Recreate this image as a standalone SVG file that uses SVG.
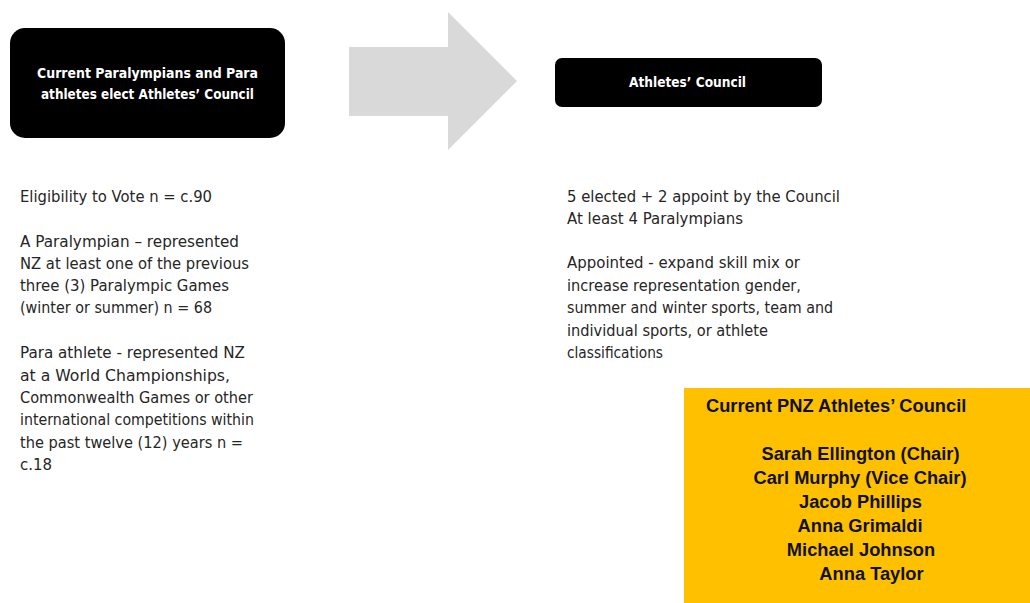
<svg xmlns="http://www.w3.org/2000/svg" width="1030" height="603" viewBox="0 0 1030 603">
<style>
.box{fill:#000}
.bt{font-family:"DejaVu Sans",sans-serif;font-weight:bold;font-size:14px;fill:#fff;text-anchor:middle}
.body{font-family:"DejaVu Sans",sans-serif;font-size:15px;fill:#262626}
.y{font-family:"Liberation Sans",Arial,sans-serif;font-weight:bold;font-size:18.3px;fill:#111}
.yc{text-anchor:middle}
</style>
<rect width="1030" height="603" fill="#fff"/>
<g id="node-electors">
<rect class="box" x="10" y="28" width="275" height="110" rx="15"/>
<text class="bt" x="147.5" y="78" textLength="221" lengthAdjust="spacingAndGlyphs">Current Paralympians and Para</text>
<text class="bt" x="147.5" y="99" textLength="213" lengthAdjust="spacingAndGlyphs">athletes elect Athletes’ Council</text>
</g>
<g id="connectors">
<polygon points="349,47 448,47 448,12 517,81 448,150 448,116 349,116" fill="#d9d9d9"/>
</g>
<g id="node-council">
<rect class="box" x="555" y="58" width="267" height="49" rx="7"/>
<text class="bt" x="687.5" y="87" textLength="117" lengthAdjust="spacingAndGlyphs">Athletes’ Council</text>
</g>
<g id="left-text" class="body">
<text x="20" y="202" textLength="192" lengthAdjust="spacingAndGlyphs">Eligibility to Vote n = c.90</text>
<text x="20" y="247" textLength="219" lengthAdjust="spacingAndGlyphs">A Paralympian – represented</text>
<text x="20" y="269" textLength="229" lengthAdjust="spacingAndGlyphs">NZ at least one of the previous</text>
<text x="20" y="291" textLength="209" lengthAdjust="spacingAndGlyphs">three (3) Paralympic Games</text>
<text x="20" y="313" textLength="192" lengthAdjust="spacingAndGlyphs">(winter or summer) n = 68</text>
<text x="20" y="358" textLength="225" lengthAdjust="spacingAndGlyphs">Para athlete - represented NZ</text>
<text x="20" y="381" textLength="210" lengthAdjust="spacingAndGlyphs">at a World Championships,</text>
<text x="20" y="403" textLength="233" lengthAdjust="spacingAndGlyphs">Commonwealth Games or other</text>
<text x="20" y="425" textLength="234" lengthAdjust="spacingAndGlyphs">international competitions within</text>
<text x="20" y="448" textLength="223" lengthAdjust="spacingAndGlyphs">the past twelve (12) years n =</text>
<text x="20" y="470" textLength="32" lengthAdjust="spacingAndGlyphs">c.18</text>
</g>
<g id="right-text" class="body">
<text x="567" y="202" textLength="273" lengthAdjust="spacingAndGlyphs">5 elected + 2 appoint by the Council</text>
<text x="567" y="224" textLength="176" lengthAdjust="spacingAndGlyphs">At least 4 Paralympians</text>
<text x="567" y="268" textLength="233" lengthAdjust="spacingAndGlyphs">Appointed - expand skill mix or</text>
<text x="567" y="291" textLength="234" lengthAdjust="spacingAndGlyphs">increase representation gender,</text>
<text x="567" y="313" textLength="266" lengthAdjust="spacingAndGlyphs">summer and winter sports, team and</text>
<text x="567" y="336" textLength="201" lengthAdjust="spacingAndGlyphs">individual sports, or athlete</text>
<text x="567" y="358" textLength="96" lengthAdjust="spacingAndGlyphs">classifications</text>
</g>
<g id="node-current-council">
<rect x="684" y="388" width="346" height="215" fill="#ffc000"/>
<text class="y" x="706" y="412">Current PNZ Athletes’ Council</text>
<text class="y yc" x="860.5" y="460">Sarah Ellington (Chair)</text>
<text class="y yc" x="860" y="484">Carl Murphy (Vice Chair)</text>
<text class="y yc" x="860.5" y="508">Jacob Phillips</text>
<text class="y yc" x="860" y="532">Anna Grimaldi</text>
<text class="y yc" x="861" y="556">Michael Johnson</text>
<text class="y yc" x="871.5" y="580">Anna Taylor</text>
</g>
</svg>
